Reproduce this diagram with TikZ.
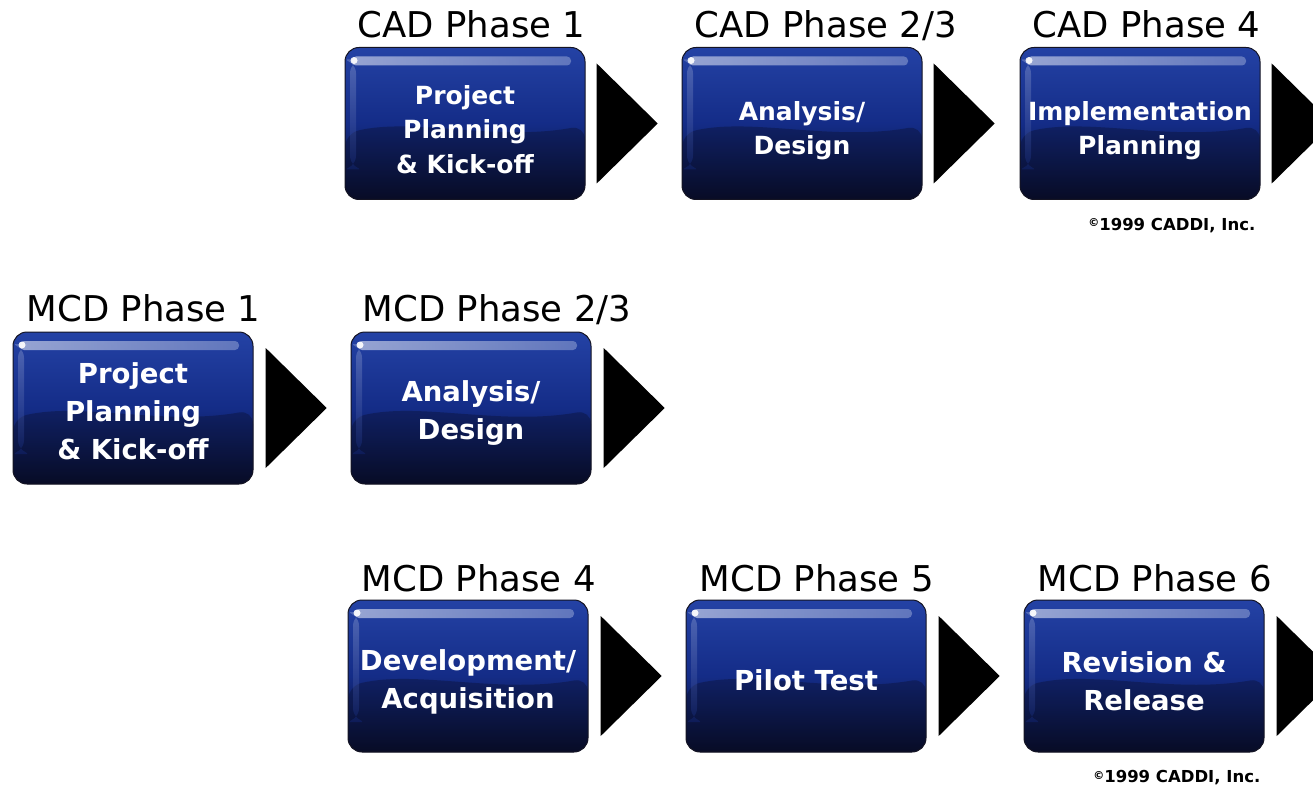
\documentclass[tikz,border=0pt]{standalone}
\usepackage{fontspec}
\setmainfont{DejaVu Sans}
\usetikzlibrary{positioning,shapes.geometric}

\definecolor{phasetop}{RGB}{36,66,165}
\definecolor{phasemid}{RGB}{20,44,135}
\definecolor{phasebot}{RGB}{8,12,38}
\definecolor{phaseedge}{RGB}{20,20,35}

\begin{document}
\begin{tikzpicture}[
  x=1pt,y=-1pt,
  phase/.style={rounded corners=14pt,minimum width=240pt,minimum height=152pt,inner sep=0pt,
    draw=phaseedge,line width=1pt,top color=phasetop,bottom color=phasebot,middle color=phasemid,
    path picture={
      \fill[phasebot,opacity=.35]
        ([yshift=66pt]path picture bounding box.south west)
        .. controls ([xshift=70pt,yshift=82pt]path picture bounding box.south west)
        and ([xshift=150pt,yshift=58pt]path picture bounding box.south west)
        .. ([xshift=240pt,yshift=74pt]path picture bounding box.south west)
        |- (path picture bounding box.south west) -- cycle;
      \shade[left color=white!75!phasetop,right color=phasetop!60!white,opacity=.7,rounded corners=4pt]
        ([xshift=7pt,yshift=-9pt]path picture bounding box.north west) rectangle
        ([xshift=-14pt,yshift=-18pt]path picture bounding box.north east);
      \shade[top color=white!60!phasetop,bottom color=phasemid,opacity=.35]
        ([xshift=5pt,yshift=-12pt]path picture bounding box.north west) rectangle
        ([xshift=11pt,yshift=30pt]path picture bounding box.south west);
      \fill[white,opacity=.9] ([xshift=9pt,yshift=-13pt]path picture bounding box.north west) circle (3.5pt);
    }},
  phasetext/.style={text=white,align=center,inner sep=0pt,font=\bfseries\fontsize{25}{34.5}\selectfont},
  phasebigtext/.style={phasetext,font=\bfseries\fontsize{27.5}{38}\selectfont},
  phasetitle/.style={anchor=base west,inner sep=0pt,font=\fontsize{35.5}{40}\selectfont},
  pointer/.style={isosceles triangle,isosceles triangle stretches,shape border rotate=0,
    fill=black,minimum width=120pt,minimum height=61pt,inner sep=0pt},
  copyr/.style={anchor=base east,inner sep=0pt,font=\bfseries\fontsize{16.5}{18}\selectfont}
]
\useasboundingbox (0,0) rectangle (1313,786);

% CAD row
\node[phase] (cad1) at (465,123.5) {};
\node[phase, right=96pt of cad1] (cad23) {};
\node[phase, right=97pt of cad23] (cad4) {};
\node[phasetext] (xcad1) at ([yshift=-6pt]cad1.center) {Project\\Planning\\\& Kick-off};
\node[phasetext] (xcad23) at ([yshift=-7pt]cad23.center) {Analysis/\\Design};
\node[phasetext] (xcad4) at ([yshift=-7pt]cad4.center) {Implementation\\Planning};
\node[phasetitle] (tcad1) at ([xshift=13pt,yshift=9pt]cad1.north west) {CAD Phase 1};
\node[phasetitle] (tcad23) at ([xshift=13pt,yshift=9pt]cad23.north west) {CAD Phase 2/3};
\node[phasetitle] (tcad4) at ([xshift=13pt,yshift=9pt]cad4.north west) {CAD Phase 4};
\node[pointer, right=11pt of cad1] (pcad1) {};
\node[pointer, right=11pt of cad23] (pcad23) {};
\node[pointer, right=11pt of cad4] (pcad4) {};
\node[copyr] (copycad) at ([xshift=-5pt,yshift=-30pt]cad4.south east)
  {{\fontsize{11}{11}\selectfont\raisebox{3pt}{\textcopyright}}1999 CADDI, Inc.};

% MCD rows
\node[phase] (mcd1) at (133,408) {};
\node[phase, right=97pt of mcd1] (mcd23) {};
\node[phasebigtext] (xmcd1) at ([yshift=-3pt]mcd1.center) {Project\\Planning\\\& Kick-off};
\node[phasebigtext] (xmcd23) at ([yshift=-5pt]mcd23.center) {Analysis/\\Design};
\node[phasetitle] (tmcd1) at ([xshift=14pt,yshift=10pt]mcd1.north west) {MCD Phase 1};
\node[phasetitle] (tmcd23) at ([xshift=12pt,yshift=10pt]mcd23.north west) {MCD Phase 2/3};
\node[pointer, right=12pt of mcd1] (pmcd1) {};
\node[pointer, right=12pt of mcd23] (pmcd23) {};

\node[phase] (mcd4) at (468,676) {};
\node[phase, right=97pt of mcd4] (mcd5) {};
\node[phase, right=97pt of mcd5] (mcd6) {};
\node[phasebigtext] (xmcd4) at ([yshift=-6pt]mcd4.center) {Development/\\Acquisition};
\node[phasebigtext] (xmcd5) at ([yshift=-4pt]mcd5.center) {Pilot Test};
\node[phasebigtext] (xmcd6) at ([yshift=-5pt]mcd6.center) {Revision \&\\Release};
\node[phasetitle] (tmcd4) at ([xshift=14pt,yshift=8pt]mcd4.north west) {MCD Phase 4};
\node[phasetitle] (tmcd5) at ([xshift=14pt,yshift=8pt]mcd5.north west) {MCD Phase 5};
\node[phasetitle] (tmcd6) at ([xshift=14pt,yshift=8pt]mcd6.north west) {MCD Phase 6};
\node[pointer, right=12pt of mcd4] (pmcd4) {};
\node[pointer, right=12pt of mcd5] (pmcd5) {};
\node[pointer, right=12pt of mcd6] (pmcd6) {};
\node[copyr] (copymcd) at ([xshift=-4pt,yshift=-30pt]mcd6.south east)
  {{\fontsize{11}{11}\selectfont\raisebox{3pt}{\textcopyright}}1999 CADDI, Inc.};
\end{tikzpicture}
\end{document}
